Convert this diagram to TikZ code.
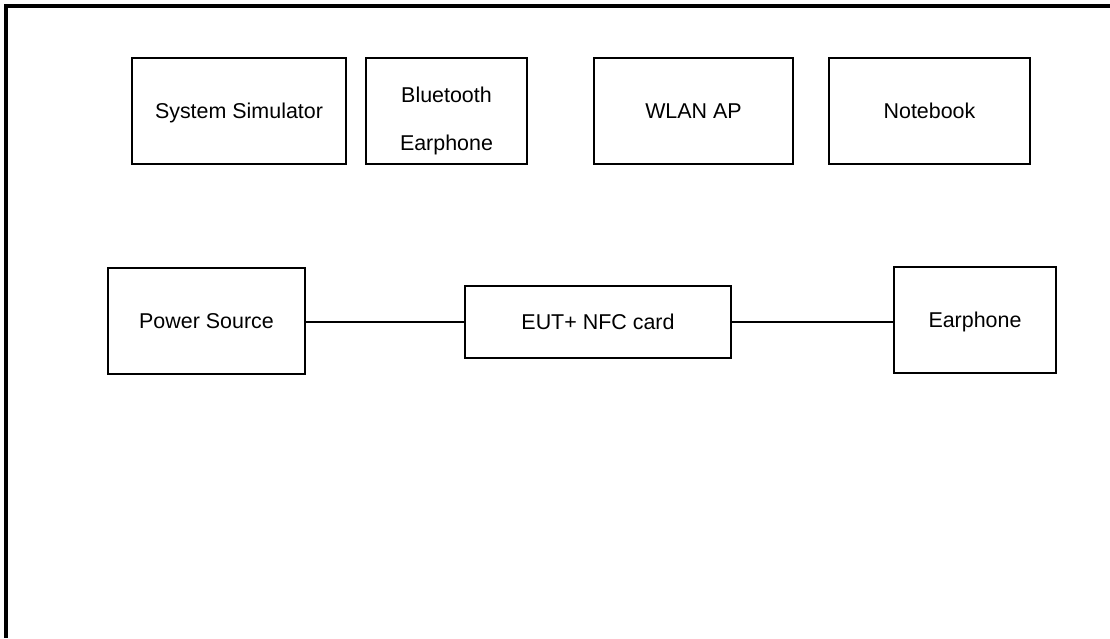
\documentclass[tikz,border=0pt]{standalone}
\usepackage{fontspec}
\setmainfont{Liberation Sans}

\begin{document}
\begin{tikzpicture}[
    x=0.2mm, y=-0.2mm,
    font=\fontsize{12.2}{27}\selectfont,
    box/.style={draw, line width=0.8pt, inner sep=0pt, outer sep=0pt, minimum height=21.2mm,
        text height=11pt, text depth=2.6pt, align=center},
    link/.style={line width=1.1pt}
]

\useasboundingbox (0,0) rectangle (1110,638);
\draw[line width=1.8pt] (1110,6) -- (6,6) -- (6,638);

\node[box, minimum width=42.8mm] (sim) at (239,111) {System Simulator};
\node[box, minimum width=32.2mm,
    label={[align=center, yshift=-2mm]center:Bluetooth\\Earphone}] (bt) at (446.5,111) {};
\node[box, minimum width=39.8mm] (wlan) at (693.5,111) {WLAN AP};
\node[box, minimum width=40.2mm] (nb) at (929.5,111) {Notebook};

\node[box, minimum width=39.4mm] (pwr) at (206.5,321) {Power Source};
\node[box, minimum width=53.2mm, minimum height=14.4mm] (eut) at (598,322) {EUT+ NFC card};
\node[box, minimum width=32.4mm] (ear) at (975,320) {Earphone};

\draw[link] (pwr.east |- eut.west) -- (eut.west);
\draw[link] (eut.east) -- (eut.east -| ear.west);

\end{tikzpicture}
\end{document}
